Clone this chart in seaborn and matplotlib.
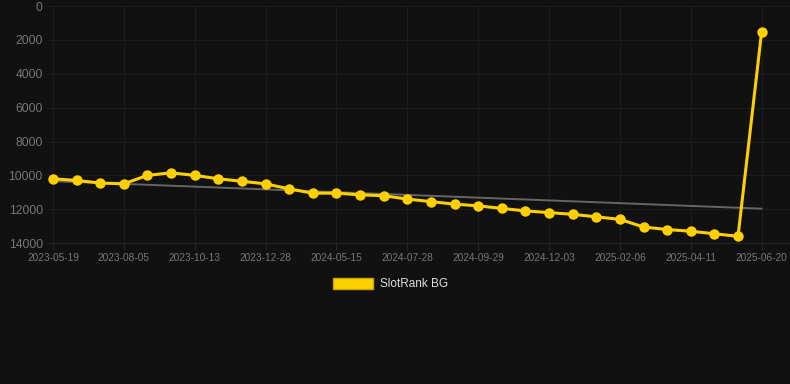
import numpy as np
import pandas as pd
import matplotlib
matplotlib.use("Agg")
import matplotlib.pyplot as plt
from matplotlib.patches import Patch
import seaborn as sns

# Rank values (lower rank number = better, axis inverted)
ranks = [10200, 10300, 10450, 10500, 10000, 9850, 10000, 10200, 10350, 10500,
         10800, 11050, 11050, 11150, 11200, 11400, 11550, 11700, 11800, 11950,
         12100, 12200, 12300, 12450, 12600, 13050, 13200, 13300, 13450, 13600,
         1500]
# Every third point carries a date label
tick_labels = ['2023-05-19', '2023-08-05', '2023-10-13', '2023-12-28', '2024-05-15',
               '2024-07-28', '2024-09-29', '2024-12-03', '2025-02-06', '2025-04-11',
               '2025-06-20']
series_name = 'SlotRank BG'

df = pd.DataFrame({'idx': np.arange(len(ranks)), 'rank': ranks})

# linear trend over all points
coef = np.polyfit(df['idx'], df['rank'], 1)
df['trend'] = np.polyval(coef, df['idx'])

sns.set_style('dark')
plt.rcParams['font.family'] = ['Liberation Sans', 'DejaVu Sans']
bg = '#111111'
yellow = '#ffd000'

fig = plt.figure(figsize=(7.9, 3.84), dpi=100, facecolor=bg)
ax = fig.add_axes([0.0595, 0.367, 0.9405, 0.617], facecolor=bg)

sns.lineplot(data=df, x='idx', y='trend', ax=ax, color='#666666', linewidth=1.4)
sns.lineplot(data=df, x='idx', y='rank', ax=ax, color=yellow, linewidth=2.2,
             marker='o', markersize=7.5, markeredgewidth=0, markeredgecolor=yellow)

ax.set_ylim(14000, 0)
ax.set_yticks(range(0, 14001, 2000))
ax.set_xlim(-0.25, 31.2)
ax.set_xticks(df['idx'][::3])
ax.set_xticklabels(tick_labels)
ax.set_xlabel('')
ax.set_ylabel('')

ax.grid(True, color='#1c1c1c', linewidth=0.8)
for s in ax.spines.values():
    s.set_visible(False)
ax.spines['bottom'].set_visible(True)
ax.spines['bottom'].set_color('#262626')
ax.spines['bottom'].set_linewidth(0.8)
ax.tick_params(axis='x', colors='#262626', labelcolor='#777777', labelsize=7.3,
               length=5, width=0.8, pad=2, bottom=True)
ax.tick_params(axis='y', labelcolor='#777777', labelsize=8.7, length=0, pad=3)

fig.legend(handles=[Patch(facecolor=yellow, edgecolor='#c9a400', label=series_name)],
           loc='center', bbox_to_anchor=(0.494, 0.26), frameon=False,
           fontsize=8.5, labelcolor='#dddddd', handlelength=3.4, handleheight=1.0,
           handletextpad=0.6)

fig.savefig('out.png', dpi=100, facecolor=bg)
